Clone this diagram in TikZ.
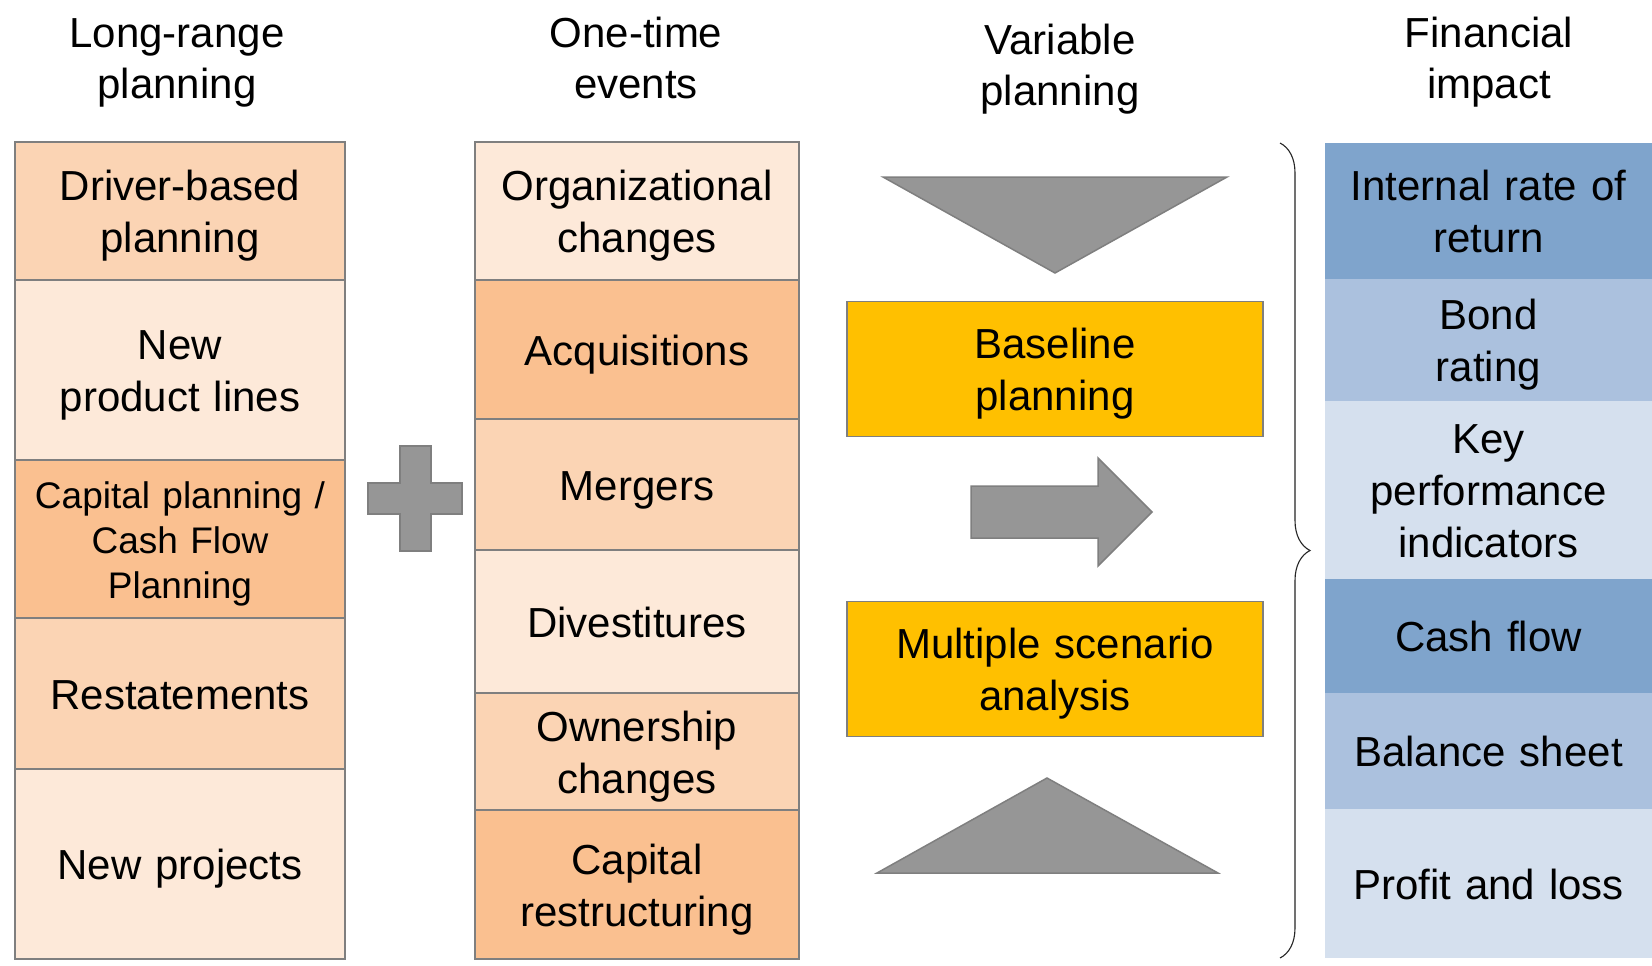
\documentclass[tikz,border=0pt]{standalone}
\usepackage{fontspec}
\setmainfont{Liberation Sans}
\usetikzlibrary{positioning,decorations.pathreplacing}

\definecolor{edge}{HTML}{7F7F7F}
\definecolor{peach}{HTML}{FBD4B4}
\definecolor{cream}{HTML}{FDE9D9}
\definecolor{apricot}{HTML}{FAC090}
\definecolor{amber}{HTML}{FFC000}
\definecolor{shade}{HTML}{969696}
\definecolor{blueA}{HTML}{7FA4CC}
\definecolor{blueB}{HTML}{ABC1DE}
\definecolor{blueC}{HTML}{D5E0EE}

\newcommand{\topstrut}{\rule{0pt}{1em}}
\newcommand{\botstrut}{\rule[-0.24em]{0pt}{0.24em}}

\begin{document}
\begin{tikzpicture}[x=1pt,y=-1pt,
  struts/.style={execute at begin node=\topstrut, execute at end node=\botstrut},
  cell/.style={draw=edge, line width=1.5pt, outer sep=0pt, inner sep=0pt,
    align=center, struts, font=\fontsize{42}{52}\selectfont},
  leftcell/.style={cell, minimum width=330pt, text width=320pt},
  midcell/.style={cell, minimum width=324pt, text width=314pt},
  fincell/.style={cell, draw=none, minimum width=327pt, text width=317pt},
  header/.style={align=center, struts, text width=320pt, font=\fontsize{42}{51}\selectfont},
  plan/.style={cell, fill=amber, minimum width=416pt, text width=400pt, minimum height=135pt},
  grayshape/.style={draw=edge, fill=shade, line width=1.5pt, line join=miter}]

\useasboundingbox[fill=white] (0,0) rectangle (1652,966);

% column headers
\node[header] (hLong) at (177,57) {Long-range\\planning};
\node[header] (hOne) at (636,57) {One-time\\events};
\node[header] (hVar) at (1060,64) {Variable\\planning};
\node[header] (hFin) at (1489,57) {Financial\\impact};

% long-range planning
\node[leftcell, fill=peach, minimum height=138pt, anchor=north west] (dbp) at (15,142) {Driver-based\\planning};
\node[leftcell, fill=cream, minimum height=180pt, below=0pt of dbp] (npl) {New\\product lines};
\node[leftcell, fill=apricot, minimum height=158pt, below=0pt of npl,
  font=\fontsize{37}{45}\selectfont] (cpl) {Capital planning /\\Cash Flow\\Planning};
\node[leftcell, fill=peach, minimum height=151pt, below=0pt of cpl] (rst) {Restatements};
\node[leftcell, fill=cream, minimum height=190pt, below=0pt of rst] (npj) {New projects};

% plus sign
\draw[grayshape] (400,446) -- (431,446) -- (431,483) -- (462,483) -- (462,514) -- (431,514)
  -- (431,551) -- (400,551) -- (400,514) -- (368,514) -- (368,483) -- (400,483) -- cycle;

% one-time events
\node[midcell, fill=cream, minimum height=138pt, anchor=north west] (org) at (475,142) {Organizational\\changes};
\node[midcell, fill=apricot, minimum height=139pt, below=0pt of org] (acq) {Acquisitions};
\node[midcell, fill=peach, minimum height=131pt, below=0pt of acq] (mrg) {Mergers};
\node[midcell, fill=cream, minimum height=143pt, below=0pt of mrg] (dvs) {Divestitures};
\node[midcell, fill=peach, minimum height=117pt, below=0pt of dvs] (own) {Ownership\\changes};
\node[midcell, fill=apricot, minimum height=149pt, below=0pt of own] (crs) {Capital\\restructuring};

% variable planning
\draw[grayshape] (883,177) -- (1227,177) -- (1055,273) -- cycle;
\node[plan] (base) at (1055,369) {Baseline\\planning};
\draw[grayshape] (971,486) -- (1098,486) -- (1098,458) -- (1152,512) -- (1098,566)
  -- (1098,538) -- (971,538) -- cycle;
\node[plan] (multi) at (1055,669) {Multiple scenario\\analysis};
\draw[grayshape] (877,873) -- (1218,873) -- (1047,778) -- cycle;

% brace
\coordinate (bTop) at (1280,143);
\coordinate (bBot) at (1280,958);
\draw[black!85, line width=1.1pt, decorate, decoration={brace, amplitude=30pt}] (bTop) -- (bBot);

% financial impact
\node[fincell, fill=blueA, minimum height=136pt, anchor=north west] (irr) at (1325,143) {Internal rate of\\return};
\node[fincell, fill=blueB, minimum height=122pt, below=0pt of irr] (bond) {Bond\\rating};
\node[fincell, fill=blueC, minimum height=178pt, below=0pt of bond] (kpi) {Key\\performance\\indicators};
\node[fincell, fill=blueA, minimum height=114pt, below=0pt of kpi] (cash) {Cash flow};
\node[fincell, fill=blueB, minimum height=116pt, below=0pt of cash] (bal) {Balance sheet};
\node[fincell, fill=blueC, minimum height=149pt, below=0pt of bal] (pnl) {Profit and loss};
\end{tikzpicture}
\end{document}
